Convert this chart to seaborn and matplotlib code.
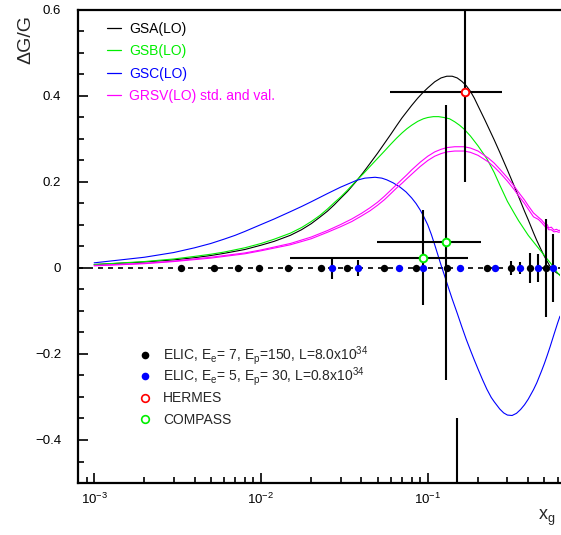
import math
import matplotlib
matplotlib.use("Agg")
import matplotlib.pyplot as plt
import seaborn as sns
from matplotlib.lines import Line2D
from matplotlib.ticker import LogLocator, MultipleLocator, FuncFormatter, NullFormatter

# ---------------- model curves (LO gluon polarisation) ----------------
gsa_x = [0.001, 0.002, 0.003, 0.004, 0.005, 0.006, 0.008, 0.01, 0.012, 0.015, 0.0175, 0.02,
         0.0225, 0.025, 0.0275, 0.03, 0.033, 0.0375, 0.041, 0.045, 0.05, 0.055, 0.06, 0.065,
         0.07, 0.075, 0.08, 0.087, 0.094, 0.1, 0.11, 0.12, 0.13, 0.14, 0.15, 0.16, 0.17, 0.18,
         0.19, 0.2, 0.22, 0.25, 0.27, 0.3, 0.33, 0.357, 0.38, 0.4, 0.43, 0.45, 0.48, 0.5,
         0.536, 0.56, 0.59, 0.62]
gsa_y = [0.008, 0.014, 0.019, 0.024, 0.029, 0.034, 0.043, 0.053, 0.062, 0.076, 0.089, 0.103,
         0.118, 0.132, 0.147, 0.162, 0.178, 0.203, 0.222, 0.243, 0.267, 0.290, 0.311, 0.331,
         0.349, 0.364, 0.378, 0.395, 0.409, 0.419, 0.433, 0.442, 0.446, 0.446, 0.442, 0.434, 0.424, 0.411,
         0.395, 0.377, 0.344, 0.298, 0.269, 0.228, 0.190, 0.158, 0.132, 0.112, 0.082, 0.064, 0.041, 0.027,
         0.006, -0.004, -0.011, -0.016]

gsb_x = [0.001, 0.002, 0.003, 0.004, 0.005, 0.006, 0.008, 0.01, 0.012, 0.015, 0.0175, 0.02,
         0.0225, 0.025, 0.0275, 0.03, 0.033, 0.0375, 0.041, 0.045, 0.05, 0.055, 0.06, 0.065,
         0.07, 0.075, 0.08, 0.087, 0.094, 0.1, 0.108, 0.116, 0.125, 0.135, 0.145, 0.155, 0.165,
         0.18, 0.2, 0.226, 0.25, 0.27, 0.3, 0.33, 0.35, 0.4, 0.45, 0.5, 0.55, 0.59, 0.62]
gsb_y = [0.008, 0.015, 0.021, 0.027, 0.032, 0.037, 0.047, 0.057, 0.067, 0.081, 0.094, 0.108,
         0.122, 0.137, 0.152, 0.165, 0.181, 0.204, 0.219, 0.236, 0.255, 0.272, 0.288, 0.302,
         0.314, 0.324, 0.332, 0.341, 0.347, 0.350, 0.352, 0.352, 0.350, 0.347, 0.340, 0.332, 0.323,
         0.307, 0.284, 0.254, 0.222, 0.193, 0.155, 0.127, 0.110, 0.076, 0.051, 0.029, 0.009, -0.008, -0.018]

gsc_x = [0.001, 0.002, 0.003, 0.004, 0.005, 0.006, 0.007, 0.008, 0.01, 0.012, 0.015, 0.0175,
         0.02, 0.025, 0.03, 0.034, 0.0375, 0.042, 0.0483, 0.053, 0.0568, 0.062, 0.0682, 0.074,
         0.08, 0.085, 0.09, 0.095, 0.1, 0.105, 0.11, 0.115, 0.12, 0.127, 0.133, 0.14, 0.15, 0.16,
         0.17, 0.18, 0.19, 0.2, 0.213, 0.226, 0.24, 0.25, 0.27, 0.285, 0.3, 0.32, 0.34, 0.36,
         0.38, 0.4, 0.43, 0.45, 0.48, 0.5, 0.52, 0.541, 0.57, 0.6, 0.62]
gsc_y = [0.012, 0.025, 0.036, 0.047, 0.057, 0.067, 0.076, 0.085, 0.101, 0.114, 0.131, 0.143,
         0.154, 0.173, 0.188, 0.197, 0.204, 0.209, 0.211, 0.209, 0.205, 0.198, 0.188, 0.177,
         0.163, 0.150, 0.135, 0.118, 0.100, 0.078, 0.054, 0.030, 0.007, -0.022, -0.046, -0.072, -0.105, -0.137,
         -0.166, -0.191, -0.214, -0.235, -0.260, -0.282, -0.301, -0.311, -0.328, -0.337, -0.342, -0.343, -0.338, -0.329,
         -0.318, -0.305, -0.283, -0.267, -0.240, -0.222, -0.203, -0.183, -0.155, -0.128, -0.112]

grsv_x = [0.001, 0.002, 0.003, 0.005, 0.008, 0.01, 0.015, 0.02, 0.025, 0.03, 0.035, 0.04, 0.045,
          0.05, 0.055, 0.06, 0.065, 0.07, 0.075, 0.08, 0.09, 0.1, 0.11, 0.12, 0.13, 0.145, 0.165,
          0.18, 0.2, 0.23, 0.25, 0.27, 0.3, 0.33, 0.35, 0.38, 0.4, 0.43, 0.46, 0.48, 0.5, 0.51,
          0.52, 0.53, 0.55, 0.57, 0.59, 0.61, 0.62]
grsv_std_y = [0.006, 0.011, 0.016, 0.025, 0.035, 0.042, 0.057, 0.072, 0.087, 0.101, 0.114, 0.127, 0.140,
              0.153, 0.167, 0.181, 0.194, 0.206, 0.217, 0.228, 0.246, 0.260, 0.270, 0.276, 0.280, 0.282, 0.282,
              0.279, 0.272, 0.256, 0.244, 0.230, 0.210, 0.190, 0.176, 0.158, 0.145, 0.128, 0.118, 0.112, 0.104, 0.099,
              0.101, 0.093, 0.095, 0.088, 0.090, 0.087, 0.088]
grsv_val_y = [0.005, 0.010, 0.015, 0.023, 0.033, 0.040, 0.054, 0.068, 0.083, 0.096, 0.108, 0.121, 0.133,
              0.146, 0.159, 0.173, 0.186, 0.197, 0.208, 0.218, 0.236, 0.250, 0.260, 0.266, 0.270, 0.272, 0.272,
              0.269, 0.262, 0.247, 0.235, 0.222, 0.202, 0.182, 0.168, 0.150, 0.137, 0.119, 0.113, 0.106, 0.098, 0.094,
              0.095, 0.089, 0.089, 0.084, 0.085, 0.083, 0.084]

# ---------------- projected ELIC points ----------------
elic1_x = [0.0033, 0.0052, 0.0073, 0.0097, 0.0145, 0.0229, 0.033, 0.0549, 0.0848, 0.130,
           0.227, 0.317, 0.410, 0.512]
elic1_y = [0.0] * len(elic1_x)
elic1_err = [0.002, 0.002, 0.002, 0.002, 0.002, 0.003, 0.003, 0.003, 0.003, 0.004,
             0.005, 0.016, 0.036, 0.114]

elic2_x = [0.0268, 0.0384, 0.0676, 0.094, 0.156, 0.253, 0.357, 0.458, 0.566]
elic2_y = [0.0] * len(elic2_x)
elic2_err = [0.026, 0.018, 0.004, 0.004, 0.004, 0.005, 0.015, 0.032, 0.078]

# ---------------- measurements ----------------
hermes_x, hermes_y = [0.168], [0.41]
hermes_xlo, hermes_xhi = [0.0594], [0.278]
hermes_err = [0.21]

compass_x, compass_y = [0.094, 0.129], [0.024, 0.06]
compass_xlo, compass_xhi = [0.0149, 0.0499], [0.174, 0.208]
compass_err = [0.11, 0.32]

# error bar of a point lying below the plotted range
low_x, low_top, low_bottom = [0.15], [-0.35], [-0.60]

curve_labels = ["GSA(LO)", "GSB(LO)", "GSC(LO)", "GRSV(LO) std. and val."]
curve_colors = ["black", "#00ee00", "#0000ff", "#ff00ff"]
point_labels = [r"ELIC, E$_{\rm e}$= 7, E$_{\rm p}$=150, L=8.0x10$^{34}$",
                r"ELIC, E$_{\rm e}$= 5, E$_{\rm p}$= 30, L=0.8x10$^{34}$",
                "HERMES", "COMPASS"]

sns.set_style("ticks")
plt.rcParams["font.family"] = ["Liberation Sans", "DejaVu Sans"]
plt.rcParams["mathtext.fontset"] = "custom"
plt.rcParams["mathtext.rm"] = "Liberation Sans"
plt.rcParams["mathtext.it"] = "Liberation Sans:italic"
plt.rcParams["mathtext.bf"] = "Liberation Sans:bold"

W, H = 561, 535
fig = plt.figure(figsize=(W / 100, H / 100), dpi=100)
ax = fig.add_axes([78 / W, 1 - 483 / H, 482 / W, 473 / H])
ax.set_xscale("log")

# zero line
ax.axhline(0, color="black", lw=1.2, ls=(0, (3, 3)), zorder=1)

# curves
curves = [(gsa_x, gsa_y, 0), (gsb_x, gsb_y, 1), (gsc_x, gsc_y, 2),
          (grsv_x, grsv_std_y, 3), (grsv_x, grsv_val_y, 3)]
for cx, cy, ci in curves:
    sns.lineplot(x=cx, y=cy, ax=ax, color=curve_colors[ci], lw=0.8,
                 estimator=None, sort=False, zorder=2)

# error bars
ebar = dict(fmt="none", ecolor="black", elinewidth=1.5, capsize=0, zorder=3)
ax.errorbar(elic1_x, elic1_y, yerr=elic1_err, **ebar)
ax.errorbar(elic2_x, elic2_y, yerr=elic2_err, **ebar)
hx_err = [[h - lo for h, lo in zip(hermes_x, hermes_xlo)], [hi - h for h, hi in zip(hermes_x, hermes_xhi)]]
ax.errorbar(hermes_x, hermes_y, xerr=hx_err, yerr=hermes_err, **ebar)
cx_err = [[c - lo for c, lo in zip(compass_x, compass_xlo)], [hi - c for c, hi in zip(compass_x, compass_xhi)]]
ax.errorbar(compass_x, compass_y, xerr=cx_err, yerr=compass_err, **ebar)
ax.vlines(low_x, low_bottom, low_top, color="black", lw=1.5, zorder=3)

# markers
sns.scatterplot(x=elic1_x, y=elic1_y, ax=ax, color="black", s=28, linewidth=0, zorder=4)
sns.scatterplot(x=elic2_x, y=elic2_y, ax=ax, color="#0000ff", s=28, linewidth=0, zorder=4)
sns.scatterplot(x=hermes_x, y=hermes_y, ax=ax, facecolor="white", edgecolor="#ff0000", s=30,
                linewidth=1.4, zorder=5)
sns.scatterplot(x=compass_x, y=compass_y, ax=ax, facecolor="white", edgecolor="#00ee00", s=30,
                linewidth=1.4, zorder=5)

# axes
ax.set_xlim(0.0008, 0.62)
ax.set_ylim(-0.5, 0.6)
ax.xaxis.set_major_locator(LogLocator(base=10, numticks=10))
ax.xaxis.set_minor_locator(LogLocator(base=10, subs=range(2, 10), numticks=20))
ax.xaxis.set_minor_formatter(NullFormatter())
ax.xaxis.set_major_formatter(FuncFormatter(lambda v, p: r"$10^{%d}$" % round(math.log10(v))))
ax.yaxis.set_major_locator(MultipleLocator(0.2))
ax.yaxis.set_minor_locator(MultipleLocator(0.05))
ax.yaxis.set_major_formatter(FuncFormatter(
    lambda v, p: "0" if abs(v) < 1e-9 else ("%.1f" % v).replace("-", "\u2212")))
ax.tick_params(which="both", direction="in", width=1.2, colors="black", labelsize=9.5)
ax.tick_params(which="major", length=7)
ax.tick_params(which="minor", length=4)
ax.tick_params(axis="x", which="major", pad=6)
ax.tick_params(axis="y", which="major", pad=12)
for side in ["left", "bottom", "top"]:
    ax.spines[side].set_linewidth(1.6)
    ax.spines[side].set_color("black")
ax.spines["right"].set_visible(False)
ax.set_xlabel("")
ax.set_ylabel("")

fig.text(26 / W, 1 - 40 / H, "\u0394G/G", rotation=90, ha="center", va="center", fontsize=14)
fig.text(547 / W, 1 - 518 / H, r"x$_{\rm g}$", ha="center", va="center", fontsize=13)

# legend for the curves
line_handles = [Line2D([], [], color=c, lw=0.9) for c in curve_colors]
leg1 = ax.legend(line_handles, curve_labels, loc="upper left", frameon=False, fontsize=10,
                 bbox_to_anchor=((107 - 78) / 482, 1 - (22 - 10) / 473), borderpad=0, borderaxespad=0,
                 handlelength=1.0, handletextpad=0.6, labelspacing=0.6, labelcolor=curve_colors)

# key for the data points, one row every 21.3 px
pt_styles = [dict(mfc="black", mec="black", mew=0),
             dict(mfc="#0000ff", mec="#0000ff", mew=0),
             dict(mfc="white", mec="#ff0000", mew=1.2),
             dict(mfc="white", mec="#00ee00", mew=1.2)]
for i, (lab, st) in enumerate(zip(point_labels, pt_styles)):
    yrow = 355 + 21.3 * i
    fig.add_artist(Line2D([145 / W], [1 - yrow / H], transform=fig.transFigure, ls="none",
                          marker="o", ms=5.5, **st))
    fig.text(163 / W, 1 - (yrow + 4.6) / H, lab, ha="left", va="baseline", fontsize=10)

fig.savefig("out.png", dpi=100)
